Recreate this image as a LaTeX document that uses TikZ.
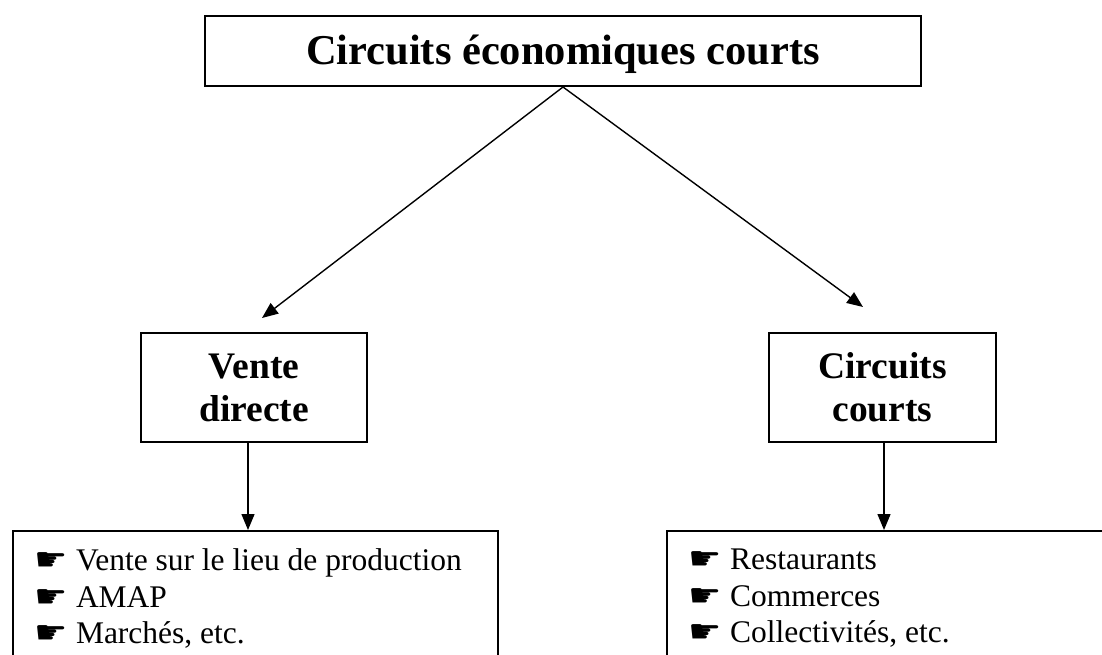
\documentclass[tikz,border=0pt]{standalone}
\usepackage{fontspec}
\setmainfont{Liberation Serif}
\newfontfamily\handfont{DejaVu Sans}
\usetikzlibrary{arrows.meta}
\newcommand{\pointer}{\makebox[42pt][l]{\scalebox{1.18}[1.0]{\handfont\char"261B}}}

\begin{document}
\begin{tikzpicture}[x=1pt,y=-1pt,
  box/.style={draw,line width=2pt},
  arr/.style={line width=1.4pt,-{Triangle[length=16pt,width=13pt]}}]
\useasboundingbox (0,0) rectangle (1102,655);
\clip (0,0) rectangle (1102,655);

\node[box,minimum width=716pt,minimum height=70pt,text height=28pt,text depth=0pt,
  font=\fontsize{42.5}{48}\selectfont\bfseries] (eco) at (563,51) {Circuits économiques courts};

\node[box,minimum width=226pt,minimum height=109pt,align=center,
  font=\fontsize{37.5}{43}\selectfont\bfseries] (vd) at (254,387.5) {Vente\\directe};
\node[box,minimum width=227pt,minimum height=109pt,align=center,
  font=\fontsize{37.5}{43}\selectfont\bfseries] (cc) at (882.5,387.5) {Circuits\\courts};

\node[box,anchor=north west,text width=443pt,align=flush left,inner xsep=21pt,inner ysep=18pt,
  font=\fontsize{31.5}{36.5}\selectfont] (vdlist) at (12,530)
  {\pointer Vente sur le lieu de production\\ \pointer AMAP\\ \pointer Marchés, etc.};
\node[box,anchor=north west,text width=458pt,align=flush left,inner xsep=21pt,inner ysep=18pt,
  font=\fontsize{31.5}{36.5}\selectfont] (cclist) at (666,530)
  {\pointer Restaurants\\ \pointer Commerces\\ \pointer Collectivités, etc.};

% arrows
\coordinate (vdtip) at (262,318);
\coordinate (cctip) at (863,307);
\draw[arr] (eco.south) -- (vdtip);
\draw[arr] (eco.south) -- (cctip);
\draw[arr] ([xshift=-6pt]vd.south) -- ([xshift=-6pt]vd.south |- vdlist.north);
\draw[arr] ([xshift=1.5pt]cc.south) -- ([xshift=1.5pt]cc.south |- cclist.north);

\end{tikzpicture}
\end{document}
